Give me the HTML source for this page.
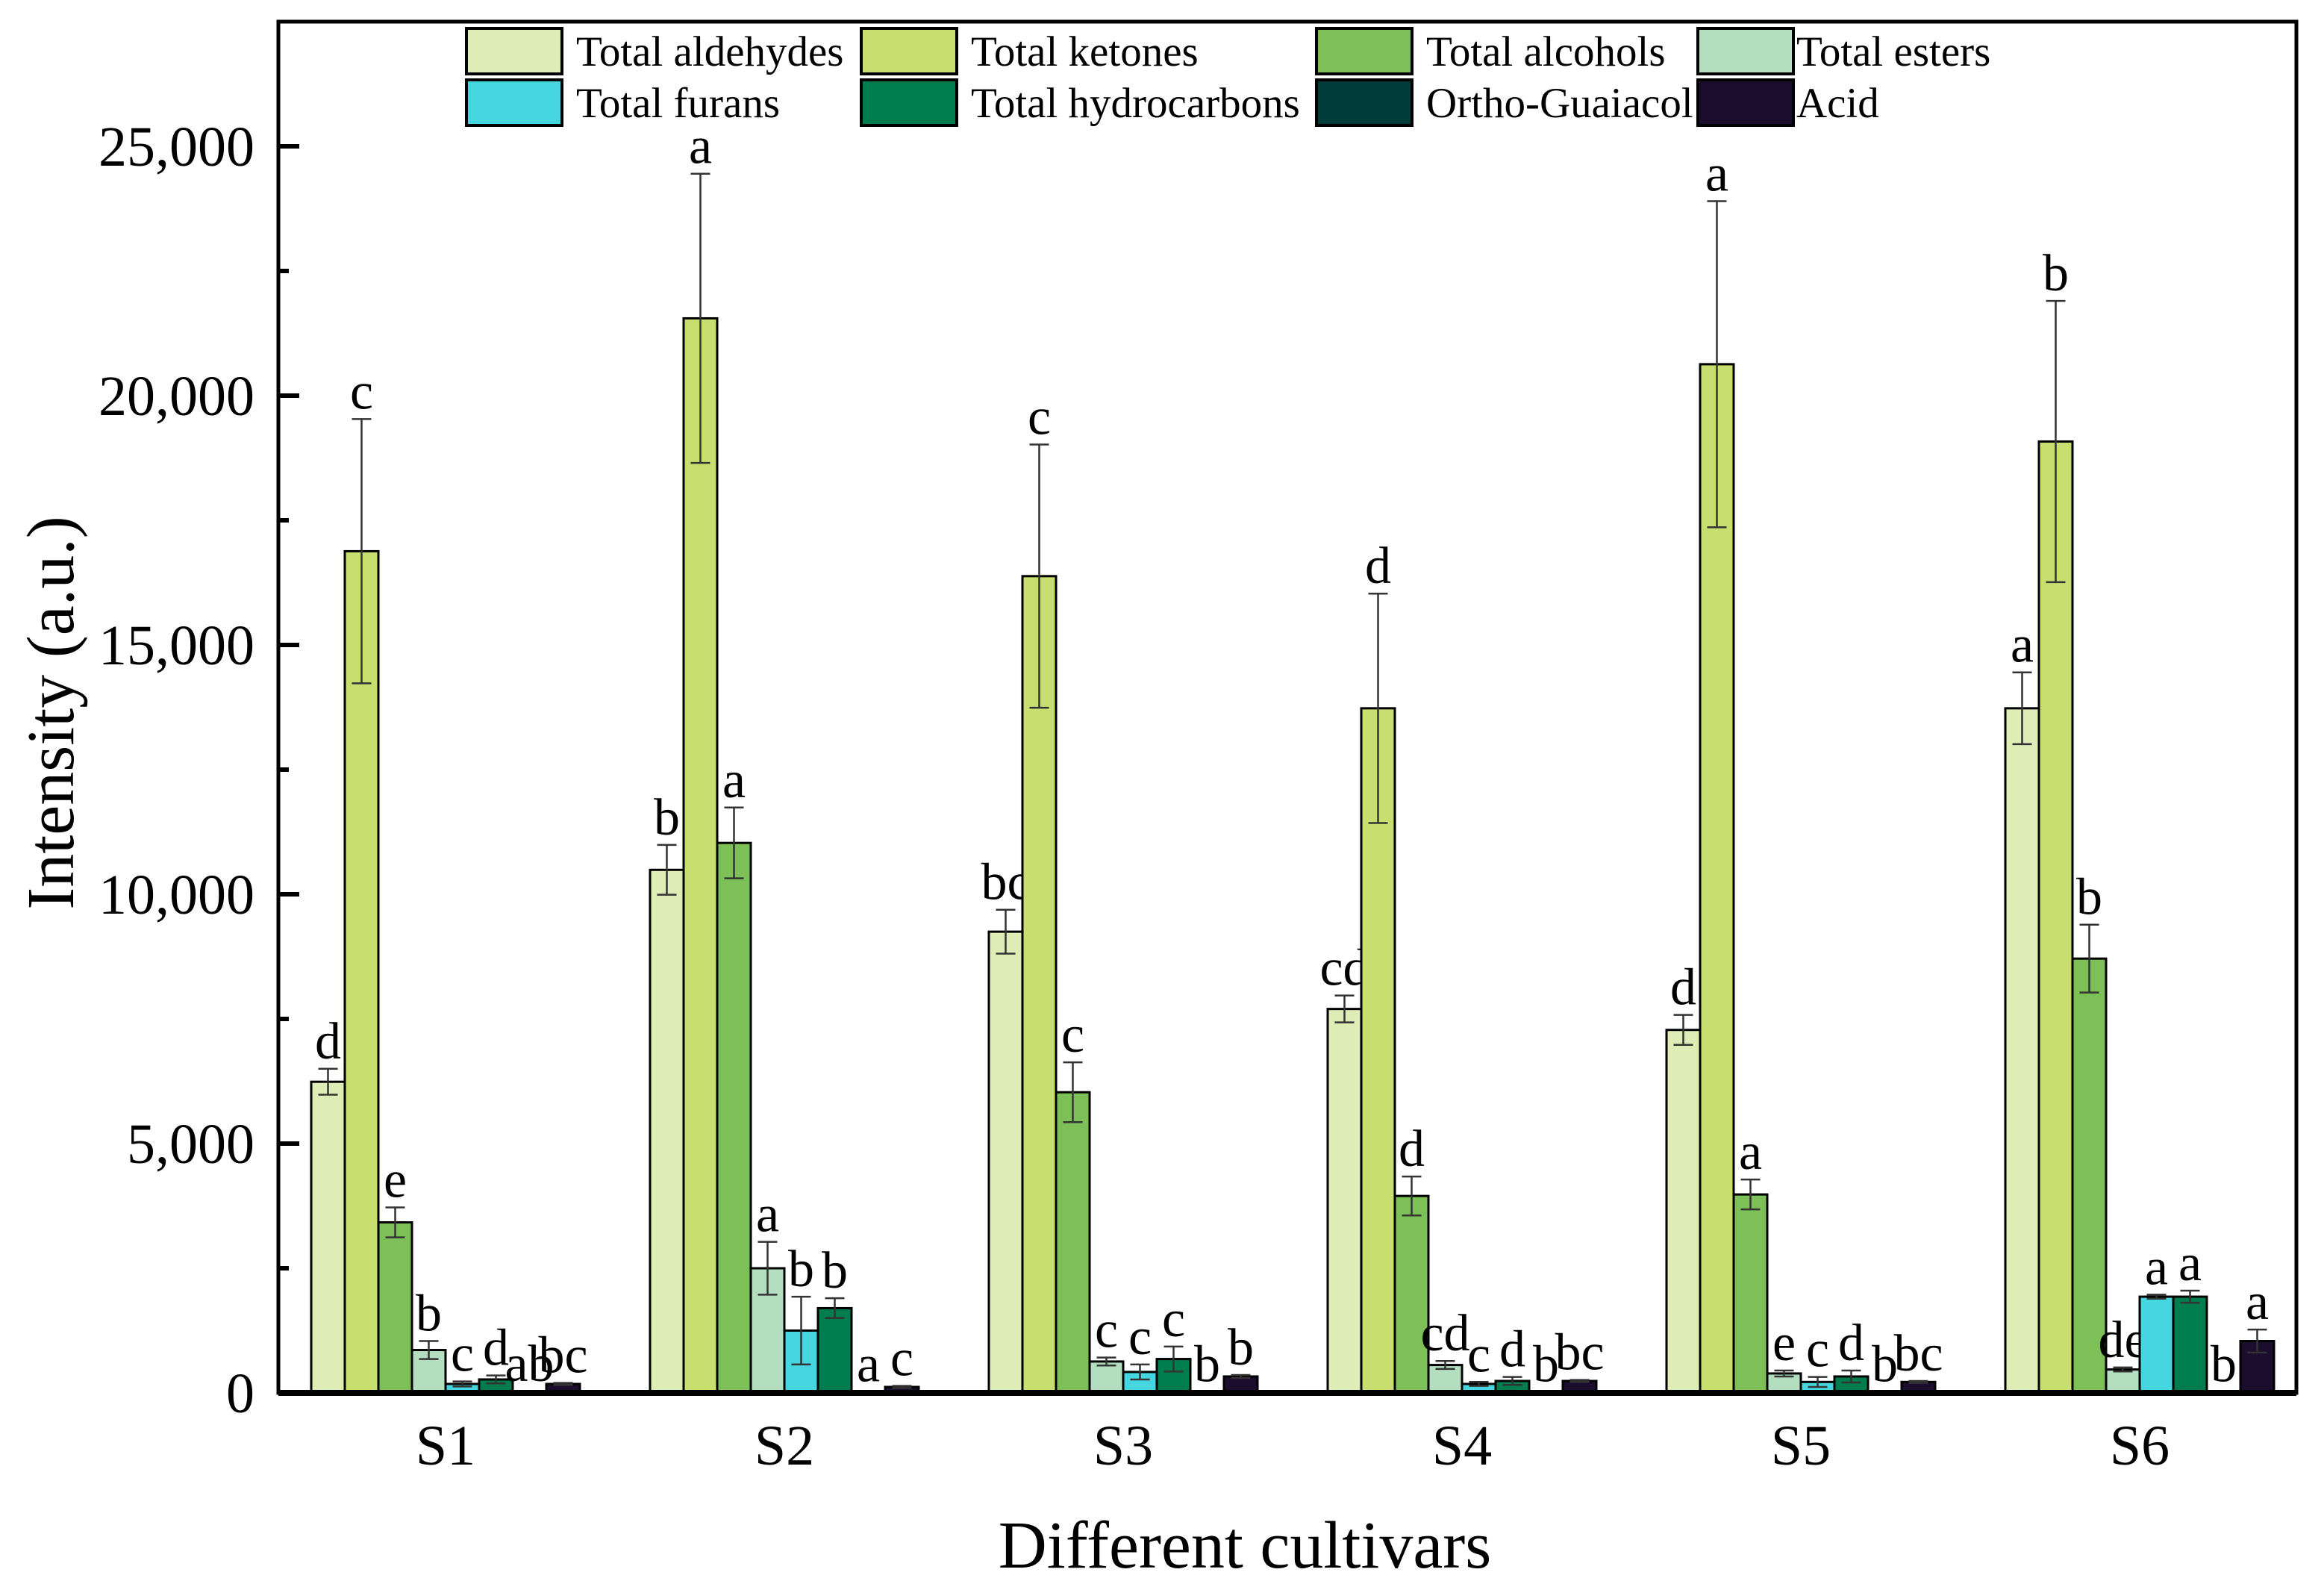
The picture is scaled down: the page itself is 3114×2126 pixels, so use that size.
<!DOCTYPE html>
<html><head><meta charset="utf-8"><style>
html,body{margin:0;padding:0;background:#fff}
svg{display:block}
text{font-family:"Liberation Serif",serif;fill:#000}
</style></head><body>
<svg id="chart" width="3114" height="2126" viewBox="0 0 3114 2126"></svg>
<script>
const categories=["S1","S2","S3","S4","S5","S6"];
const seriesNames=["Total aldehydes","Total ketones","Total alcohols","Total esters","Total furans","Total hydrocarbons","Ortho-Guaiacol","Acid"];
const seriesColors=["#deecb6","#c8df6f","#7dc057","#b3dfc0","#45d6e0","#007d4f","#003d3a","#1c0c2e"];
const aldehydes=[6240,10490,9250,7700,7280,13730];
const ketones=[16880,21550,16380,13730,20630,19080];
const alcohols=[3420,11030,6030,3950,3980,8710];
const esters=[860,2500,630,560,390,470];
const furans=[180,1250,420,180,220,1930];
const hydrocarbons=[270,1700,680,240,330,1930];
const guaiacol=[30,20,20,20,20,20];
const acid=[180,120,330,240,220,1040];
const errAld=[260,500,440,270,300,720];
const errKet=[2650,2900,2640,2300,3270,2820];
const errAlc=[300,710,600,390,300,680];
const errEst=[180,530,80,80,60,40];
const errFur=[50,680,150,40,100,40];
const errHyd=[80,200,250,80,120,120];
const errGua=[0,0,0,0,0,0];
const errAcid=[20,20,30,20,20,230];
const lblAld=["d","b","bc","cd","d","a"];
const lblKet=["c","a","c","d","a","b"];
const lblAlc=["e","a","c","d","a","b"];
const lblEst=["b","a","c","cd","e","de"];
const lblFur=["c","b","c","c","c","a"];
const lblHyd=["d","b","c","d","d","a"];
const lblGua=["ab","a","b","b","b","b"];
const lblAcid=["bc","c","b","bc","bc","a"];
const yTicks=[0,5000,10000,15000,20000,25000];
const yTickLabels=["0","5,000","10,000","15,000","20,000","25,000"];

const values=[aldehydes,ketones,alcohols,esters,furans,hydrocarbons,guaiacol,acid];
const errs=[errAld,errKet,errAlc,errEst,errFur,errHyd,errGua,errAcid];
const lbls=[lblAld,lblKet,lblAlc,lblEst,lblFur,lblHyd,lblGua,lblAcid];

const L=373,R=3077,T=29,B=1866;
const y0=1866,pxPer=334/5000;
const yScale=v=>y0-v*pxPer;
const groupStart=417,groupStep=454,barW=45;
const xScale=(g,s)=>groupStart+g*groupStep+s*barW;
const svg=document.getElementById('chart');
const NS="http://www.w3.org/2000/svg";
function mk(tag,attrs,parent){const e=document.createElementNS(NS,tag);for(const k in attrs)e.setAttribute(k,attrs[k]);(parent||svg).appendChild(e);return e;}

// bars
for(let s=0;s<8;s++){
  const g=mk('g',{});
  
  
  for(let c=0;c<6;c++){
    const v=values[s][c],x=xScale(c,s),yt=yScale(v);
    const r=mk('rect',{x:x,y:yt,width:barW,height:Math.max(y0-yt,1),fill:seriesColors[s],stroke:'#000','stroke-width':3},g);
    
    
    const e=errs[s][c],cx=x+barW/2;
    if(e>0){
      const eb=mk('g',{stroke:'#333','stroke-width':2.5},g);
      
      
      mk('line',{x1:cx,x2:cx,y1:yScale(v+e),y2:yScale(v-e)},eb);
      mk('line',{x1:cx-13,x2:cx+13,y1:yScale(v+e),y2:yScale(v+e)},eb);
      mk('line',{x1:cx-13,x2:cx+13,y1:yScale(v-e),y2:yScale(v-e)},eb);
    }
    const t=mk('text',{x:cx,y:yScale(v+e)-14,'font-size':70,'text-anchor':'middle'},g);
    t.textContent=lbls[s][c];
    
    
  }
}
// frame
const frame=mk('rect',{x:L,y:T,width:R-L,height:B-T,fill:'none',stroke:'#000','stroke-width':5});


const xa=mk('line',{x1:L,x2:R,y1:B,y2:B,stroke:'#000','stroke-width':8});


// y ticks
for(let i=0;i<yTicks.length;i++){
  const y=yScale(yTicks[i]);
  mk('line',{x1:L,x2:L+28,y1:y,y2:y,stroke:'#000','stroke-width':6});
  if(i<yTicks.length-1){const ym=yScale(yTicks[i]+2500);mk('line',{x1:L,x2:L+14,y1:ym,y2:ym,stroke:'#000','stroke-width':6});}
  const t=mk('text',{x:L-32,y:y+26,'font-size':76,'text-anchor':'end'});
  t.textContent=yTickLabels[i];
  
  
}
// x labels
for(let c=0;c<6;c++){
  const t=mk('text',{x:xScale(c,4),y:1962,'font-size':76,'text-anchor':'middle'});
  t.textContent=categories[c];
  
  
}
const xt=mk('text',{x:1668,y:2100,'font-size':90,'text-anchor':'middle'});
xt.textContent='Different cultivars';


const yt=mk('text',{x:0,y:0,'font-size':90,'text-anchor':'middle',transform:'translate(98,955) rotate(-90)'});
yt.textContent='Intensity (a.u.)';


// legend
const legX=[625,1154,1764,2275],legY=[38,107];
const leg=mk('g',{});


for(let s=0;s<8;s++){
  const col=s%4,row=Math.floor(s/4);
  const g=mk('g',{},leg);
  
  
  mk('rect',{x:legX[col],y:legY[row],width:128,height:61,fill:seriesColors[s],stroke:'#000','stroke-width':4},g);
  const t=mk('text',{x:legX[col]+(col===3?132:147),y:legY[row]+50,'font-size':57},g);
  t.textContent=seriesNames[s];
}
</script>
</body></html>
